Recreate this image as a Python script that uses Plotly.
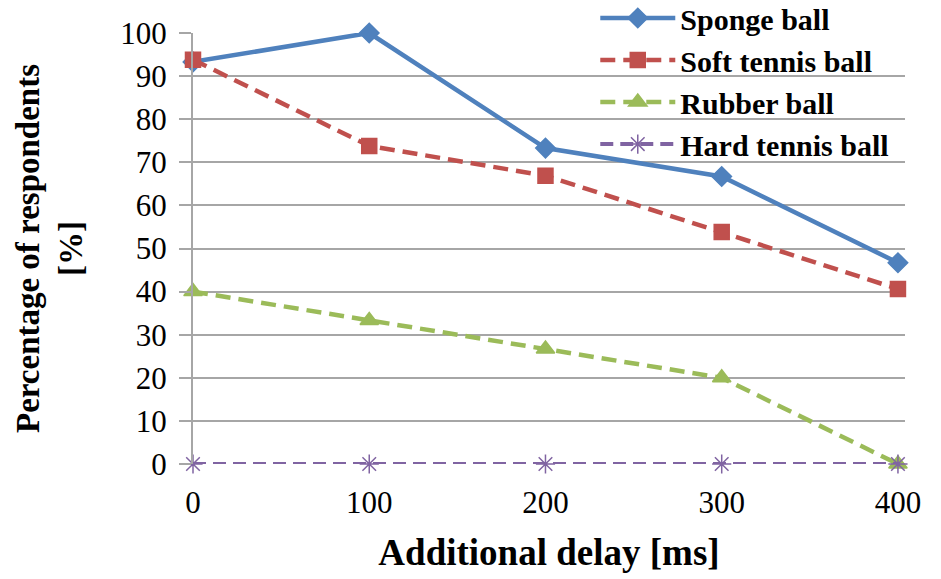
import plotly.graph_objects as go

delays = [0, 100, 200, 300, 400]
sponge = [93.3, 100, 73.3, 66.7, 46.7]
soft_tennis = [93.8, 73.8, 66.9, 53.8, 40.6]
rubber = [40, 33.3, 26.7, 20, 0]
hard_tennis = [0, 0, 0, 0, 0]

series = [
    ("Sponge ball", sponge, "#4F81BD", "solid", 4.5, "diamond", 15),
    ("Soft tennis ball", soft_tennis, "#C0504D", "15px,8px", 4.5, "square", 15),
    ("Rubber ball", rubber, "#9BBB59", "15px,8px", 4.5, "triangle-up", 16),
    ("Hard tennis ball", hard_tennis, "#8064A2", "13px,7px", 4, "asterisk-open", 16),
]

fig = go.Figure()
for name, vals, color, dash, lw, sym, size in series:
    fig.add_trace(go.Scatter(
        x=delays, y=vals, name=name, mode="lines+markers",
        line=dict(color=color, width=lw, dash=dash),
        marker=dict(symbol=sym, size=size, color=color,
                    line=dict(color=color, width=1.5)),
        cliponaxis=False,
    ))

font_family = "Liberation Serif, Times New Roman, serif"
fig.update_layout(
    width=941, height=579,
    margin=dict(l=193, r=36, t=33, b=115, autoexpand=False),
    plot_bgcolor="white", paper_bgcolor="white",
    font=dict(family=font_family, size=30, color="black"),
    showlegend=True,
    legend=dict(
        x=0.565, y=1.095, xanchor="left", yanchor="top",
        bgcolor="rgba(0,0,0,0)",
        font=dict(family=font_family, size=30, color="black", weight="bold"),
        itemwidth=75, tracegroupgap=0,
    ),
    xaxis=dict(
        range=[0, 404], tickvals=delays, ticktext=[str(d) for d in delays],
        showgrid=False, zeroline=False, showline=False, ticks="",
        tickfont=dict(size=31), ticklabelstandoff=17,
        title=dict(text="Additional delay [ms]", standoff=20,
                   font=dict(size=37, weight="bold")),
    ),
    yaxis=dict(
        range=[0, 100], dtick=10, tick0=0,
        showgrid=True, gridcolor="#A6A6A6", gridwidth=2,
        zeroline=False, showline=True, linecolor="#A6A6A6", linewidth=2,
        ticks="outside", ticklen=12, tickcolor="#A6A6A6", tickwidth=2,
        tickfont=dict(size=31), ticklabelstandoff=6,
        title=dict(text="Percentage of respondents<br>[%]", standoff=28,
                   font=dict(size=33, weight="bold")),
    ),
)

fig.write_html("out.html")
